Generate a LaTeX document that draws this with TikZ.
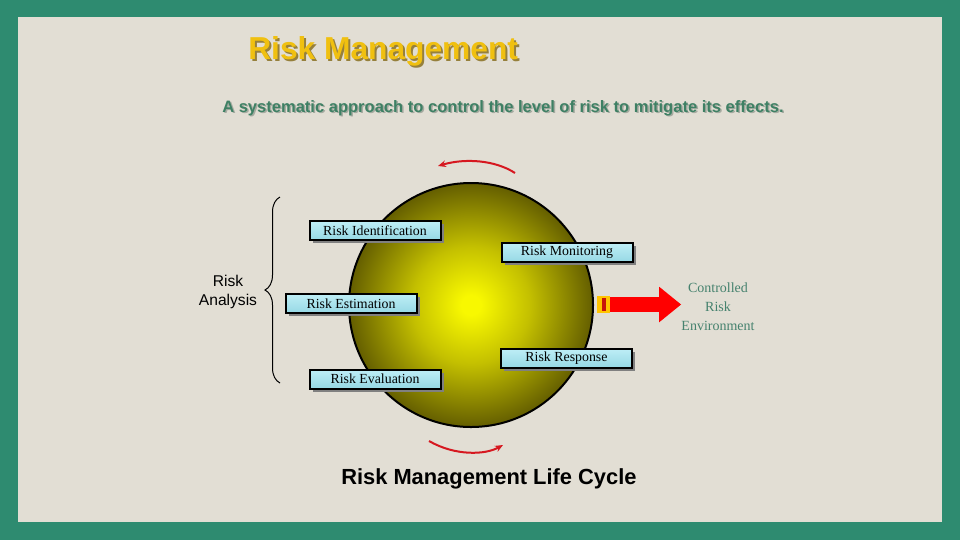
\documentclass[tikz,border=0pt]{standalone}
\usepackage{fontspec}
\setmainfont{Liberation Serif}
\setsansfont{Liberation Sans}
\usetikzlibrary{positioning, arrows.meta, shadows, decorations.pathreplacing}
\definecolor{bgframe}{RGB}{46,139,112}
\definecolor{bgbeige}{RGB}{226,222,212}
\definecolor{ttlgold}{RGB}{240,192,16}
\definecolor{ttlshadow}{RGB}{150,128,60}
\definecolor{subgreen}{RGB}{62,128,100}
\definecolor{subshadow}{RGB}{165,170,160}
\definecolor{envgreen}{RGB}{70,130,110}
\definecolor{ballhi}{RGB}{248,248,0}
\definecolor{ballmid}{RGB}{196,192,0}
\definecolor{balllo}{RGB}{100,94,0}
\definecolor{arcred}{RGB}{214,24,32}
\definecolor{plugorange}{RGB}{255,196,0}
\definecolor{plugbar}{RGB}{200,20,10}
\definecolor{boxtop}{RGB}{190,238,246}
\definecolor{boxmid}{RGB}{236,255,255}
\definecolor{boxbot}{RGB}{150,216,228}
\pgfdeclareradialshading{sphere}{\pgfpoint{0bp}{0bp}}{color(0bp)=(ballhi); color(2bp)=(ballhi); color(12bp)=(ballmid); color(25bp)=(balllo); color(50bp)=(balllo)}
\tikzset{
  ttl/.style={font=\sffamily\bfseries\fontsize{23.8}{28}\selectfont, text=ttlgold, anchor=base west, inner sep=0},
  sub/.style={font=\sffamily\bfseries\fontsize{12.4}{15}\selectfont, text=subgreen, anchor=base west, inner sep=0},
  stage/.style={draw, line width=1.5pt, top color=boxtop, middle color=boxmid, bottom color=boxbot,
                font=\fontsize{10.4}{12}\selectfont, minimum width=98.25pt, minimum height=14.25pt, inner sep=0,
                drop shadow={shadow xshift=2.5pt, shadow yshift=-2.5pt, fill=gray, opacity=1}},
  ball/.style={circle, draw, line width=1.5pt, shading=sphere, minimum size=183pt, inner sep=0},
  cyc/.style={draw=arcred, line width=1.5pt, -{Stealth[length=6pt, width=5pt]}},
  brc/.style={decorate, decoration={brace, amplitude=11.25pt, aspect=0.5}, line width=0.75pt},
  ana/.style={font=\sffamily\fontsize{11.7}{14.25}\selectfont, align=center, inner sep=0},
  env/.style={font=\fontsize{10.5}{14.25}\selectfont, text=envgreen, align=center, inner sep=0},
  plug/.style={fill=plugorange, minimum width=9.75pt, minimum height=12.75pt, inner sep=0},
  bigarr/.style={draw=red, line width=11.25pt, -{Triangle[length=16.5pt, width=25.5pt]}},
  captxt/.style={font=\sffamily\bfseries\fontsize{16.4}{20}\selectfont, anchor=base west, inner sep=0}
}
\begin{document}
\begin{tikzpicture}[x=0.75pt, y=-0.75pt]
  \fill[bgframe] (0,0) rectangle (960,540);
  \fill[bgbeige] (18,17) rectangle (942,522);
  % headings
  \node[ttl, text=ttlshadow] at (250,61) {Risk Management};
  \node[ttl] (title) at (248,59) {Risk Management};
  \node[sub, text=subshadow] at (223.5,113.5) {A systematic approach to control the level of risk to mitigate its effects.};
  \node[sub] (subtitle) at (222,112) {A systematic approach to control the level of risk to mitigate its effects.};
  % cycle
  \node[ball] (rc) at (471,305) {};
  \coordinate (ta) at (515,173); \coordinate (tb) at (438,166);
  \draw[cyc] (ta) .. controls (495,160) and (465,158) .. (tb);
  \coordinate (ba) at (429,441); \coordinate (bb) at (503,445);
  \draw[cyc] (ba) .. controls (455,456) and (485,455) .. (bb);
  \node[stage] (ident) at (375,230.5) {Risk Identification};
  \node[stage] (monit) at (567,252.5) {Risk Monitoring};
  \node[stage] (estim) at (351,303.5) {Risk Estimation};
  \node[stage] (resp) at (566.5,358) {Risk Response};
  \node[stage] (evalu) at (375,379) {Risk Evaluation};
  % analysis brace
  \coordinate (bl) at (280,383); \coordinate (bu) at (280,197);
  \draw[brc] (bl) -- (bu);
  \node[ana] (anl) at (228,292) {Risk\\Analysis};
  % output
  \node[plug] (plug) at (603.5,304.5) {};
  \node[fill=plugbar, minimum width=3pt, minimum height=9.75pt, inner sep=0] (bar) at (604,304.5) {};
  \node[env] (env) at (718,307) {Controlled\\Risk\\Environment};
  \draw[bigarr] (plug.east) -- (env.west |- plug.east);
  \node[captxt] (caption) at (341,484) {Risk Management Life Cycle};
\end{tikzpicture}
\end{document}
